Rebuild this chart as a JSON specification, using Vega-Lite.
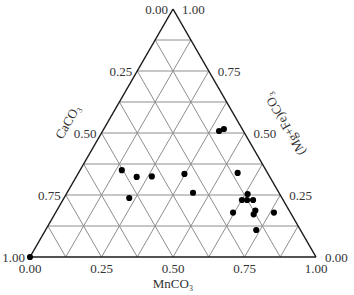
{
  "$schema": "https://vega.github.io/schema/vega-lite/v6.json",
  "width": 286,
  "height": 248,
  "autosize": "none",
  "padding": {"left": 30, "top": 9, "right": 38, "bottom": 38},
  "config": {"view": {"stroke": null}},
  "datasets": {
    "grid": [
      {"x": 0.0625, "y": 0.125, "x2": 0.9375, "y2": 0.125},
      {"x": 0.125, "y": 0.25, "x2": 0.875, "y2": 0.25},
      {"x": 0.1875, "y": 0.375, "x2": 0.8125, "y2": 0.375},
      {"x": 0.25, "y": 0.5, "x2": 0.75, "y2": 0.5},
      {"x": 0.3125, "y": 0.625, "x2": 0.6875, "y2": 0.625},
      {"x": 0.375, "y": 0.75, "x2": 0.625, "y2": 0.75},
      {"x": 0.4375, "y": 0.875, "x2": 0.5625, "y2": 0.875},
      {"x": 0.125, "y": 0, "x2": 0.5625, "y2": 0.875},
      {"x": 0.25, "y": 0, "x2": 0.625, "y2": 0.75},
      {"x": 0.375, "y": 0, "x2": 0.6875, "y2": 0.625},
      {"x": 0.5, "y": 0, "x2": 0.75, "y2": 0.5},
      {"x": 0.625, "y": 0, "x2": 0.8125, "y2": 0.375},
      {"x": 0.75, "y": 0, "x2": 0.875, "y2": 0.25},
      {"x": 0.875, "y": 0, "x2": 0.9375, "y2": 0.125},
      {"x": 0.125, "y": 0, "x2": 0.0625, "y2": 0.125},
      {"x": 0.25, "y": 0, "x2": 0.125, "y2": 0.25},
      {"x": 0.375, "y": 0, "x2": 0.1875, "y2": 0.375},
      {"x": 0.5, "y": 0, "x2": 0.25, "y2": 0.5},
      {"x": 0.625, "y": 0, "x2": 0.3125, "y2": 0.625},
      {"x": 0.75, "y": 0, "x2": 0.375, "y2": 0.75},
      {"x": 0.875, "y": 0, "x2": 0.4375, "y2": 0.875}
    ],
    "outline": [
      {"x": 0, "y": 0, "x2": 1, "y2": 0},
      {"x": 0, "y": 0, "x2": 0.5, "y2": 1},
      {"x": 1, "y": 0, "x2": 0.5, "y2": 1}
    ],
    "points": [
      {"x": 0, "y": 0},
      {"x": 0.321, "y": 0.350},
      {"x": 0.373, "y": 0.323},
      {"x": 0.426, "y": 0.325},
      {"x": 0.540, "y": 0.335},
      {"x": 0.347, "y": 0.238},
      {"x": 0.570, "y": 0.259},
      {"x": 0.661, "y": 0.508},
      {"x": 0.678, "y": 0.516},
      {"x": 0.726, "y": 0.339},
      {"x": 0.761, "y": 0.254},
      {"x": 0.741, "y": 0.230},
      {"x": 0.759, "y": 0.230},
      {"x": 0.780, "y": 0.230},
      {"x": 0.710, "y": 0.179},
      {"x": 0.788, "y": 0.187},
      {"x": 0.782, "y": 0.172},
      {"x": 0.853, "y": 0.179},
      {"x": 0.791, "y": 0.109}
    ],
    "leftLabels": [
      {"x": 0, "y": 0, "t": "1.00"},
      {"x": 0.125, "y": 0.25, "t": "0.75"},
      {"x": 0.25, "y": 0.5, "t": "0.50"},
      {"x": 0.375, "y": 0.75, "t": "0.25"},
      {"x": 0.5, "y": 1, "t": "0.00"}
    ],
    "rightLabels": [
      {"x": 1, "y": 0, "t": "0.00"},
      {"x": 0.875, "y": 0.25, "t": "0.25"},
      {"x": 0.75, "y": 0.5, "t": "0.50"},
      {"x": 0.625, "y": 0.75, "t": "0.75"},
      {"x": 0.5, "y": 1, "t": "1.00"}
    ],
    "bottomLabels": [
      {"x": 0, "y": 0, "t": "0.00"},
      {"x": 0.25, "y": 0, "t": "0.25"},
      {"x": 0.5, "y": 0, "t": "0.50"},
      {"x": 0.75, "y": 0, "t": "0.75"},
      {"x": 1, "y": 0, "t": "1.00"}
    ],
    "titles": [
      {"x": 0.5, "y": -0.109, "t": "MnCO₃", "a": 0},
      {"x": 0.133, "y": 0.544, "t": "CaCO₃", "a": 300},
      {"x": 0.892, "y": 0.536, "t": "(Mg+Fe)CO₃", "a": 240}
    ]
  },
  "encoding": {
    "x": {"field": "x", "type": "quantitative", "scale": {"domain": [0, 1], "nice": false, "zero": false}, "axis": null},
    "y": {"field": "y", "type": "quantitative", "scale": {"domain": [0, 1], "nice": false, "zero": false}, "axis": null}
  },
  "layer": [
    {
      "data": {"name": "grid"},
      "mark": {"type": "rule", "color": "#8e8e8e", "strokeWidth": 1},
      "encoding": {"x2": {"field": "x2"}, "y2": {"field": "y2"}}
    },
    {
      "data": {"name": "outline"},
      "mark": {"type": "rule", "color": "#1a1a1a", "strokeWidth": 1.5},
      "encoding": {"x2": {"field": "x2"}, "y2": {"field": "y2"}}
    },
    {
      "data": {"name": "points"},
      "mark": {"type": "circle", "color": "#000000", "opacity": 1, "size": 38}
    },
    {
      "data": {"name": "leftLabels"},
      "mark": {"type": "text", "align": "right", "baseline": "middle", "dx": -5, "dy": 1, "font": "Liberation Serif", "fontSize": 13, "color": "#333"},
      "encoding": {"text": {"field": "t"}}
    },
    {
      "data": {"name": "rightLabels"},
      "mark": {"type": "text", "align": "left", "baseline": "middle", "dx": 9, "dy": 1, "font": "Liberation Serif", "fontSize": 13, "color": "#333"},
      "encoding": {"text": {"field": "t"}}
    },
    {
      "data": {"name": "bottomLabels"},
      "mark": {"type": "text", "align": "center", "baseline": "middle", "dy": 12, "font": "Liberation Serif", "fontSize": 13, "color": "#333"},
      "encoding": {"text": {"field": "t"}}
    },
    {
      "data": {"name": "titles"},
      "mark": {"type": "text", "align": "center", "baseline": "middle", "font": "Liberation Serif", "fontSize": 13, "color": "#333"},
      "encoding": {"text": {"field": "t"}, "angle": {"field": "a", "type": "quantitative", "scale": null}}
    }
  ]
}
